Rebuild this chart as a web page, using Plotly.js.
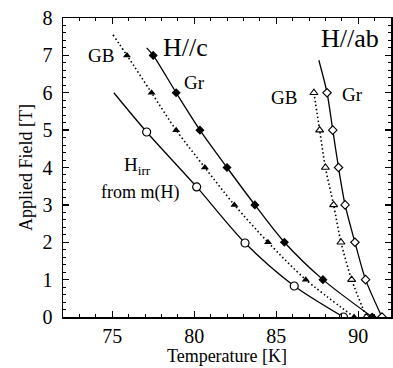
<!DOCTYPE html>
<html>
<head>
<meta charset="utf-8">
<script src="https://cdn.plot.ly/plotly-3.0.1.min.js"></script>
<style>html,body{margin:0;padding:0;background:#fff}#chart{width:393px;height:368px}</style>
</head>
<body>
<div id="chart"></div>
<script>
// H//c, Gr (filled diamonds)
var grC_T = [77.5, 78.9, 80.35, 82.0, 83.7, 85.5, 87.85, 90.85];
var grC_H = [7, 6, 5, 4, 3, 2, 1, 0];
var grC_curveT = [77.1, 77.5, 78.9, 80.35, 82.0, 83.7, 85.5, 87.85, 90.85];
var grC_curveH = [7.2, 7, 6, 5, 4, 3, 2, 1, 0];
// H//c, GB (filled triangles)
var gbC_T = [75.9, 77.4, 78.9, 80.65, 82.45, 84.5, 86.8, 89.75];
var gbC_H = [7, 6, 5, 4, 3, 2, 1, 0];
var gbC_curveT = [75.05, 75.9, 77.4, 78.9, 80.65, 82.45, 84.5, 86.8, 89.75];
var gbC_curveH = [7.55, 7, 6, 5, 4, 3, 2, 1, 0];
// Hirr from m(H) (open circles)
var irr_T = [77.1, 80.15, 83.1, 86.1, 89.1];
var irr_H = [4.95, 3.48, 1.98, 0.83, 0];
var irr_curveT = [75.1, 77.1, 80.15, 83.1, 86.1, 89.1];
var irr_curveH = [6.0, 4.95, 3.48, 1.98, 0.83, 0];
// H//ab, Gr (open diamonds)
var grAb_T = [88.1, 88.45, 88.8, 89.2, 89.8, 90.45, 91.45];
var grAb_H = [6, 5, 4, 3, 2, 1, 0];
var grAb_curveT = [87.6, 88.1, 88.45, 88.8, 89.2, 89.8, 90.45, 91.45];
var grAb_curveH = [6.87, 6, 5, 4, 3, 2, 1, 0];
// H//ab, GB (open triangles)
var gbAb_T = [87.3, 87.65, 88.0, 88.5, 88.95, 89.6, 90.5];
var gbAb_H = [6, 5, 4, 3, 2, 1, 0];

var xTicks = [75, 80, 85, 90];
var yTicks = [0, 1, 2, 3, 4, 5, 6, 7, 8];

var FONT = "'Liberation Serif', 'Times New Roman', serif";
var solid = {color: '#000', width: 1.3, shape: 'spline', smoothing: 0.8};
var dotted = {color: '#000', width: 1.6, dash: '1.5px,2.5px', shape: 'spline', smoothing: 0.8};

var traces = [
  {x: irr_curveT, y: irr_curveH, mode: 'lines', line: solid, hoverinfo: 'skip'},
  {x: gbC_curveT, y: gbC_curveH, mode: 'lines', line: dotted, hoverinfo: 'skip'},
  {x: grC_curveT, y: grC_curveH, mode: 'lines', line: solid, hoverinfo: 'skip'},
  {x: gbAb_T, y: gbAb_H, mode: 'lines', line: dotted, hoverinfo: 'skip'},
  {x: grAb_curveT, y: grAb_curveH, mode: 'lines', line: solid, hoverinfo: 'skip'},
  {x: irr_T, y: irr_H, mode: 'markers', marker: {symbol: 'circle', size: 8, color: '#fff', line: {color: '#000', width: 1.2}}},
  {x: gbC_T, y: gbC_H, mode: 'markers', marker: {symbol: 'triangle-up', size: 7, color: '#000'}},
  {x: grC_T, y: grC_H, mode: 'markers', marker: {symbol: 'diamond', size: 7, color: '#000'}},
  {x: gbAb_T, y: gbAb_H, mode: 'markers', marker: {symbol: 'triangle-up', size: 7, color: '#fff', line: {color: '#000', width: 1.1}}},
  {x: grAb_T, y: grAb_H, mode: 'markers', marker: {symbol: 'diamond', size: 6.5, color: '#fff', line: {color: '#000', width: 1.1}}}
];

function ann(text, x, y, size, xanchor) {
  return {text: text, x: x, y: y, xref: 'x', yref: 'y', showarrow: false,
    xanchor: xanchor || 'center', yanchor: 'middle', font: {family: FONT, size: size, color: '#000'}};
}

var layout = {
  width: 393, height: 368,
  margin: {l: 63, r: 2, t: 18, b: 51},
  paper_bgcolor: '#fff', plot_bgcolor: '#fff',
  showlegend: false,
  font: {family: FONT, color: '#000'},
  xaxis: {
    range: [72, 92], tickvals: xTicks, ticktext: xTicks.map(String),
    ticks: 'inside', ticklen: 6, tickwidth: 1.3, tickcolor: '#000',
    minor: {dtick: 1, tick0: 72, ticks: 'inside', ticklen: 3, tickcolor: '#000', tickwidth: 1},
    showline: true, linecolor: '#000', linewidth: 1.5, mirror: 'allticks',
    showgrid: false, zeroline: false,
    tickfont: {family: FONT, size: 20, color: '#000'},
    title: {text: 'Temperature [K]', font: {family: FONT, size: 18, color: '#000'}, standoff: 3}
  },
  yaxis: {
    range: [0, 8], tickvals: yTicks, ticktext: yTicks.map(String),
    ticks: 'inside', ticklen: 6, tickwidth: 1.3, tickcolor: '#000',
    minor: {dtick: 0.2, ticks: 'inside', ticklen: 3, tickcolor: '#000', tickwidth: 1},
    showline: true, linecolor: '#000', linewidth: 1.5, mirror: 'allticks',
    showgrid: false, zeroline: false,
    tickfont: {family: FONT, size: 20, color: '#000'},
    ticklabelstandoff: 5,
    title: {text: 'Applied Field [T]', font: {family: FONT, size: 18, color: '#000'}, standoff: 5}
  },
  annotations: [
    ann('H//c', 79.45, 7.22, 26),
    ann('H//ab', 89.5, 7.46, 26),
    ann('GB', 74.3, 7.0, 19),
    ann('Gr', 80.0, 6.28, 19),
    ann('GB', 85.5, 5.88, 19),
    ann('Gr', 89.65, 5.94, 19),
    ann('H<sub>irr</sub>', 75.6, 4.05, 19, 'left'),
    ann('from m(H)', 76.7, 3.34, 18)
  ]
};

Plotly.newPlot('chart', traces, layout, {displayModeBar: false, staticPlot: true});
</script>
</body>
</html>
